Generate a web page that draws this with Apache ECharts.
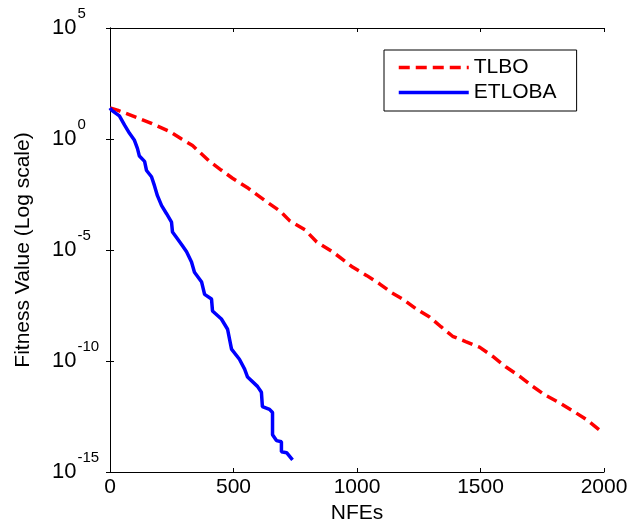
<!DOCTYPE html>
<html>
<head>
<meta charset="utf-8">
<script src="https://cdn.jsdelivr.net/npm/echarts@6/dist/echarts.min.js"></script>
<style>
  html, body { margin: 0; padding: 0; background: #fff; }
  #main { width: 642px; height: 529px; }
</style>
</head>
<body>
<div id="main"></div>
<script>
// NFEs vs fitness value
var tlboX = [0, 30, 91, 160, 241, 290, 334, 403, 450, 496, 560, 634, 690, 727, 790, 837, 900, 982, 1040, 1091, 1140, 1184, 1240, 1294, 1340, 1387, 1440, 1496, 1550, 1605, 1660, 1711, 1760, 1820, 1870, 1929, 1990];
var tlboY = [2.5e1, 2.0e1, 1.1e1, 5.5e0, 2.2e0, 1.0e0, 5.1e-1, 9.8e-2, 4.0e-2, 1.7e-2, 6.0e-3, 1.5e-3, 5.5e-4, 2.1e-4, 8.0e-5, 2.3e-5, 8.5e-6, 1.7e-6, 7.0e-7, 3.0e-7, 1.2e-7, 6.3e-8, 2.2e-8, 9.5e-9, 3.5e-9, 1.3e-9, 7.5e-10, 4.2e-10, 1.6e-10, 5.2e-11, 2.0e-11, 7.2e-12, 3.0e-12, 1.3e-12, 6.0e-13, 2.3e-13, 6.6e-14];

var etlobaX = [0, 6, 38, 59, 79, 99, 111, 119, 140, 148, 168, 180, 192, 209, 229, 249, 253, 273, 294, 310, 330, 342, 371, 383, 411, 415, 451, 476, 492, 524, 545, 557, 597, 613, 617, 646, 658, 658, 674, 694, 694, 715, 739];
var etlobaY = [2.5e1, 2.0e1, 1.1e1, 4.2e0, 1.8e0, 8.7e-1, 3.8e-1, 1.7e-1, 9.8e-2, 3.8e-2, 2.0e-2, 7.9e-3, 2.8e-3, 1.0e-3, 4.3e-4, 1.8e-4, 6.5e-5, 3.2e-5, 1.5e-5, 8.3e-6, 2.9e-6, 1.0e-6, 3.6e-7, 1.0e-7, 6.2e-8, 1.8e-8, 7.8e-9, 2.7e-9, 3.4e-10, 1.2e-10, 4.3e-11, 1.9e-11, 7.2e-12, 3.9e-12, 8.9e-13, 6.6e-13, 4.8e-13, 4.8e-14, 2.6e-14, 2.3e-14, 8.1e-15, 7.4e-15, 3.5e-15];

var xTicks = [0, 500, 1000, 1500, 2000];
var yTickExp = [5, 0, -5, -10, -15];

var font = 'Liberation Sans, Arial, sans-serif';

function pairs(xs, ys) {
  return xs.map(function (x, i) { return [x, ys[i]]; });
}

var chart = echarts.init(document.getElementById('main'));

var frameX = {
  type: 'value', min: xTicks[0], max: xTicks[xTicks.length - 1], interval: 500,
  axisLine: { show: true, lineStyle: { color: '#000', width: 1 } },
  axisTick: { show: true, inside: true, length: 4, lineStyle: { color: '#000' } },
  splitLine: { show: false }
};
var frameY = {
  type: 'log', logBase: 100000, min: Math.pow(10, yTickExp[4]), max: Math.pow(10, yTickExp[0]),
  axisLine: { show: true, lineStyle: { color: '#000', width: 1 } },
  axisTick: { show: true, inside: true, length: 4, lineStyle: { color: '#000' } },
  splitLine: { show: false }
};

chart.setOption({
  animation: false,
  backgroundColor: '#fff',
  grid: { left: 110, right: 38, top: 28, bottom: 56 },
  legend: {
    orient: 'vertical',
    left: 384, top: 50,
    padding: [7, 20, 8, 13],
    itemWidth: 70, itemHeight: 14, itemGap: 4,
    borderColor: '#000', borderWidth: 1,
    backgroundColor: '#fff',
    itemStyle: { opacity: 0 },
    lineStyle: { width: 3.5 },
    textStyle: { fontFamily: font, fontSize: 21, color: '#000' },
    data: ['TLBO', 'ETLOBA']
  },
  xAxis: [
    Object.assign({}, frameX, {
      position: 'bottom',
      name: 'NFEs', nameLocation: 'middle', nameGap: 31,
      nameTextStyle: { fontFamily: font, fontSize: 21, color: '#000' },
      axisLabel: {
        fontFamily: font, fontSize: 21, color: '#000', margin: 5,
        formatter: function (v) { return String(v); }
      }
    }),
    Object.assign({}, frameX, { position: 'top', axisLabel: { show: false } })
  ],
  yAxis: [
    Object.assign({}, frameY, {
      position: 'left',
      name: 'Fitness Value (Log scale)', nameLocation: 'middle', nameGap: 76,
      nameTextStyle: { fontFamily: font, fontSize: 21, color: '#000' },
      axisLabel: {
        margin: 58, align: 'left',
        padding: [0, 0, 1, 0],
        formatter: function (v) {
          var e = Math.round(Math.log10(v));
          return '{b|10}{s|' + e + '}';
        },
        rich: {
          b: { fontFamily: font, fontSize: 22, color: '#000', lineHeight: 22, verticalAlign: 'bottom' },
          s: { fontFamily: font, fontSize: 15, color: '#000', lineHeight: 15, padding: [0, 0, 17, 1], verticalAlign: 'bottom' }
        }
      }
    }),
    Object.assign({}, frameY, { position: 'right', axisLabel: { show: false } })
  ],
  series: [
    {
      name: 'TLBO', type: 'line', xAxisIndex: 0, yAxisIndex: 0,
      showSymbol: false, symbol: 'none',
      lineStyle: { color: '#ff0000', width: 3.5, type: [11, 6] },
      itemStyle: { color: '#ff0000' },
      data: pairs(tlboX, tlboY)
    },
    {
      name: 'ETLOBA', type: 'line', xAxisIndex: 0, yAxisIndex: 0,
      showSymbol: false, symbol: 'none',
      lineStyle: { color: '#0000ff', width: 3.5 },
      itemStyle: { color: '#0000ff' },
      data: pairs(etlobaX, etlobaY)
    }
  ]
});
</script>
</body>
</html>
